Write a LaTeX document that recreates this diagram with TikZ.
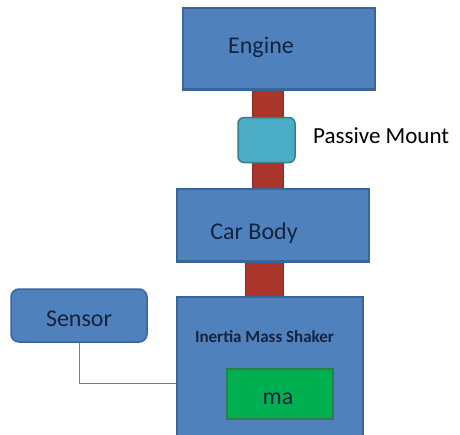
\documentclass[tikz,border=0pt]{standalone}
\usepackage{fontspec}
\setmainfont{Carlito}
\usetikzlibrary{calc}
\definecolor{boxfill}{HTML}{4F81BD}
\definecolor{boxline}{HTML}{3A649A}
\definecolor{labcol}{HTML}{15233F}
\definecolor{barfill}{HTML}{A9352B}
\definecolor{barline}{HTML}{8A2A22}
\definecolor{mountfill}{HTML}{4BACC6}
\definecolor{mountline}{HTML}{357D91}
\definecolor{greenfill}{HTML}{00B050}
\definecolor{greenline}{HTML}{2E7D4A}
\definecolor{wirecol}{HTML}{6A7F9A}
\tikzset{
  blk/.style={draw=boxline, fill=boxfill, line width=1.5pt, inner sep=0pt},
  rblk/.style={blk, rounded corners=8pt},
  lab/.style={text=labcol, inner sep=0pt, font=\fontsize{24}{28}\selectfont},
  mountbox/.style={draw=mountline, fill=mountfill, line width=1.5pt, rounded corners=6pt,
    minimum width=57pt, minimum height=45pt, inner sep=0pt},
  massbox/.style={draw=greenline, fill=greenfill, line width=1.2pt, inner sep=0pt,
    minimum width=106pt, minimum height=50pt},
  barstyle/.style={fill=barfill, draw=barline, line width=0.8pt},
  wire/.style={draw=wirecol, line width=1pt},
}
\begin{document}
\begin{tikzpicture}[x=1pt, y=-1pt]
\useasboundingbox[fill=white] (0,0) rectangle (460,434);
% boxes
\node[blk, minimum width=192pt, minimum height=81pt] (engine) at (279,48.5) {};
\node[blk, minimum width=192pt, minimum height=72pt] (body) at (273,225) {};
\node[blk, minimum width=186pt, minimum height=145pt] (shaker) at (270,370) {};
% bars
\draw[barstyle] ($(engine.south)+(-27,0)$) rectangle ($(body.north)+(10,0)$);
\draw[barstyle] ($(body.south)+(-28,0)$) rectangle ($(shaker.north)+(13,0)$);
% redraw box borders over bar ends
\draw[boxline, line width=1.5pt] (engine.south west) -- (engine.south east);
\draw[boxline, line width=1.5pt] (body.north west) -- (body.north east);
\draw[boxline, line width=1.5pt] (body.south west) -- (body.south east);
\draw[boxline, line width=1.5pt] (shaker.north west) -- (shaker.north east);
% labels
\node[lab] (englab) at ($(engine.center)+(-18,-1)$) {Engine};
\node[lab] (bodylab) at ($(body.center)+(-19,8)$) {Car Body};
% mount
\node[mountbox] (mount) at (266.5,140) {};
\node[anchor=west, font=\fontsize{23}{27}\selectfont, text=black, inner sep=0pt] (mountlab) at (313,136) {Passive Mount};
% shaker contents
\node[font=\fontsize{17}{20}\selectfont\bfseries, text=labcol, inner sep=0pt] (shakerlab) at (264.5,337) {Inertia Mass Shaker};
\node[massbox] (ma) at (280,394) {};
\node[lab] (malab) at ($(ma.center)+(-2,5)$) {ma};
% sensor
\node[rblk, minimum width=136pt, minimum height=53pt] (sensor) at (79,315.5) {};
\node[lab] (senslab) at ($(sensor.center)+(0,3.5)$) {Sensor};
\coordinate (corner) at (sensor.south |- 0,383);
\draw[wire] (sensor.south) -- (corner) -- (corner -| shaker.west);
\end{tikzpicture}
\end{document}
